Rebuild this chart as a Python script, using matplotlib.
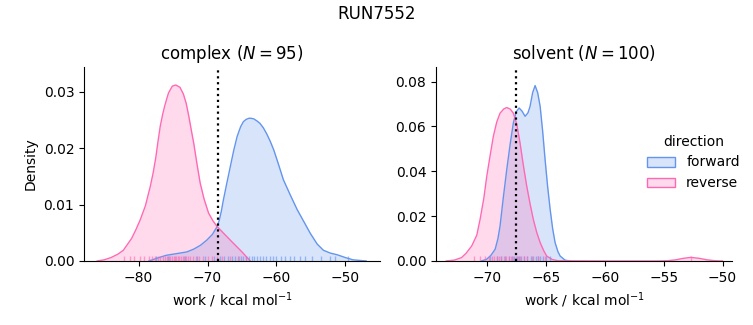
import numpy as np
import matplotlib
matplotlib.use("Agg")
import matplotlib.pyplot as plt
from matplotlib.patches import Patch
from matplotlib.ticker import MultipleLocator

# density curves (work / kcal mol^-1, density)
complex_rev_x = [-86.0, -85.0, -84.0, -83.0, -82.2, -81.0, -80.4, -79.75, -79.0, -78.3,
                 -77.9, -77.5, -77.2, -76.85, -76.5, -76.2, -75.9, -75.65, -75.1, -74.6,
                 -74.0, -73.5, -73.1, -72.7, -72.35, -72.0, -71.5, -71.06, -70.5, -69.85,
                 -69.2, -68.6, -67.5, -66.3, -65.0, -63.8]
complex_rev_d = [0.0, 0.0002, 0.0006, 0.0012, 0.0019, 0.0040, 0.0055, 0.0073, 0.0098, 0.0132,
                 0.0155, 0.0183, 0.0210, 0.0239, 0.0260, 0.0275, 0.0288, 0.0298, 0.0310, 0.0312,
                 0.0308, 0.0296, 0.0280, 0.0256, 0.0232, 0.0209, 0.0170, 0.0138, 0.0110, 0.0085,
                 0.0071, 0.0061, 0.0047, 0.0032, 0.0016, 0.0]

complex_fwd_x = [-78.5, -77.3, -76.0, -74.5, -73.0, -72.0, -71.0, -70.1, -69.3, -68.6,
                 -68.3, -68.0, -67.7, -67.2, -66.7, -66.2, -65.7, -65.2, -64.8, -64.4,
                 -64.0, -63.7, -63.3, -62.8, -62.4, -61.9, -61.4, -60.9, -60.4, -59.7,
                 -59.0, -58.0, -57.0, -56.0, -55.1, -54.1, -53.2, -52.2, -51.2, -50.0,
                 -48.9, -47.0]
complex_fwd_d = [0.0, 0.0005, 0.0010, 0.0013, 0.0016, 0.0021, 0.0028, 0.0037, 0.0047, 0.0061,
                 0.0072, 0.0088, 0.0108, 0.0138, 0.0167, 0.0196, 0.0221, 0.0238, 0.0247, 0.0251,
                 0.0253, 0.0253, 0.0252, 0.0248, 0.0244, 0.0236, 0.0225, 0.0212, 0.0197, 0.0171,
                 0.0144, 0.0117, 0.0091, 0.0069, 0.0049, 0.0030, 0.0019, 0.0014, 0.0011, 0.0006,
                 0.0002, 0.0]

solvent_rev_x = [-73.5, -72.8, -72.2, -71.8, -71.33, -70.9, -70.62, -70.3, -70.05, -69.75,
                 -69.49, -69.2, -68.92, -68.6, -68.35, -68.05, -67.79, -67.5, -67.22, -66.95,
                 -66.65, -66.35, -66.09, -65.8, -65.51, -65.2, -64.95, -64.5, -64.0, -60.0,
                 -55.5, -54.7, -54.0, -53.3, -52.7, -52.0, -51.3, -50.6, -50.0]
solvent_rev_d = [0.0, 0.0004, 0.0015, 0.0035, 0.0067, 0.0115, 0.0185, 0.0280, 0.0378, 0.0475,
                 0.0556, 0.0620, 0.0659, 0.0678, 0.0684, 0.0677, 0.0659, 0.0610, 0.0526, 0.0430,
                 0.0333, 0.0250, 0.0185, 0.0127, 0.0082, 0.0045, 0.0022, 0.0007, 0.0001, 0.0,
                 0.0, 0.0001, 0.0005, 0.0012, 0.0016, 0.0012, 0.0005, 0.0001, 0.0]

solvent_fwd_x = [-70.5, -70.05, -69.7, -69.34, -69.1, -68.92, -68.65, -68.35, -68.05, -67.79,
                 -67.55, -67.3, -67.05, -66.79, -66.55, -66.37, -66.15, -65.94, -65.72, -65.51,
                 -65.3, -65.09, -64.88, -64.66, -64.45, -64.24, -64.0, -63.81, -63.4, -63.0]
solvent_fwd_d = [0.0, 0.0008, 0.0025, 0.0052, 0.0100, 0.0156, 0.0280, 0.0408, 0.0525, 0.0615,
                 0.0665, 0.0682, 0.0668, 0.0645, 0.0660, 0.0689, 0.0750, 0.0782, 0.0750, 0.0689,
                 0.0580, 0.0452, 0.0335, 0.0230, 0.0145, 0.0082, 0.0042, 0.0022, 0.0004, 0.0]

# rug positions (estimated)
complex_rev_rug = [-82.1, -81.3, -80.6, -79.8, -79.2, -78.5, -78.0, -77.6, -77.2, -76.9,
                   -76.5, -76.2, -75.9, -75.6, -75.4, -75.1, -74.9, -74.7, -74.5, -74.3,
                   -74.1, -73.9, -73.6, -73.4, -73.1, -72.8, -72.5, -72.1, -71.7, -71.2,
                   -70.6, -70.0, -69.3, -68.6, -67.9, -66.8, -65.5, -64.4]
complex_fwd_rug = [-77.5, -75.8, -73.2, -71.5, -70.3, -69.1, -68.2, -67.6, -67.0, -66.5,
                   -66.0, -65.6, -65.2, -64.8, -64.4, -64.0, -63.6, -63.2, -62.8, -62.4,
                   -62.0, -61.5, -61.0, -60.5, -60.0, -59.4, -58.8, -58.1, -57.4, -56.6,
                   -55.8, -54.9, -53.6, -52.3, -51.5, -49.7]
solvent_rev_rug = [-71.1, -70.6, -70.2, -69.9, -69.6, -69.4, -69.2, -69.0, -68.8, -68.6,
                   -68.4, -68.2, -68.0, -67.8, -67.6, -67.4, -67.2, -66.9, -66.6, -66.2,
                   -65.7, -65.1, -52.7]
solvent_fwd_rug = [-69.8, -69.2, -68.8, -68.5, -68.2, -67.9, -67.7, -67.5, -67.3, -67.1,
                   -66.9, -66.6, -66.3, -66.1, -65.9, -65.7, -65.5, -65.3, -65.0, -64.7]

delta_g = {"complex": -68.5, "solvent": -67.55}
counts = {"complex": 95, "solvent": 100}

FWD = "cornflowerblue"
REV = "hotpink"

fig = plt.figure(figsize=(7.53, 3.25), dpi=100)
ax_c = fig.add_axes([0.1116, 0.197, 0.393, 0.597])
ax_s = fig.add_axes([0.579, 0.197, 0.393, 0.597])

panels = [
    (ax_c, "complex", complex_fwd_x, complex_fwd_d, complex_rev_x, complex_rev_d,
     complex_fwd_rug, complex_rev_rug, (-87.9, -45.0), (0, 0.0344), 10, 0.01),
    (ax_s, "solvent", solvent_fwd_x, solvent_fwd_d, solvent_rev_x, solvent_rev_d,
     solvent_fwd_rug, solvent_rev_rug, (-74.37, -49.2), (0, 0.0865), 5, 0.02),
]

for ax, name, fx, fd, rx, rd, frug, rrug, xlim, ylim, xstep, ystep in panels:
    for x, d, c in [(fx, fd, FWD), (rx, rd, REV)]:
        ax.fill_between(x, d, color=c, alpha=0.25, linewidth=0)
        ax.plot(x, d, color=c, lw=1)
    for rug, c in [(frug, FWD), (rrug, REV)]:
        ax.vlines(rug, 0, 0.025, transform=ax.get_xaxis_transform(),
                  color=c, lw=1, alpha=0.6)
    ax.axvline(delta_g[name], color="black", ls=":", lw=1.6)
    ax.set_xlim(*xlim)
    ax.set_ylim(*ylim)
    ax.xaxis.set_major_locator(MultipleLocator(xstep))
    ax.yaxis.set_major_locator(MultipleLocator(ystep))
    ax.yaxis.set_major_formatter(plt.FormatStrFormatter("%.2f"))
    ax.set_title(f"{name} ($N = {counts[name]}$)", fontsize=12)
    ax.set_xlabel(r"work / kcal mol$^{-1}$")
    ax.spines["top"].set_visible(False)
    ax.spines["right"].set_visible(False)

ax_c.set_ylabel("Density")

handles = [Patch(facecolor=matplotlib.colors.to_rgba(c, 0.25), edgecolor=c)
           for c in [FWD, REV]]
fig.legend(handles, ["forward", "reverse"], title="direction", loc="center left",
           bbox_to_anchor=(0.843, 0.5), frameon=False)

fig.suptitle("RUN7552", fontsize=12, y=0.985)

plt.savefig("out.png", dpi=100)
